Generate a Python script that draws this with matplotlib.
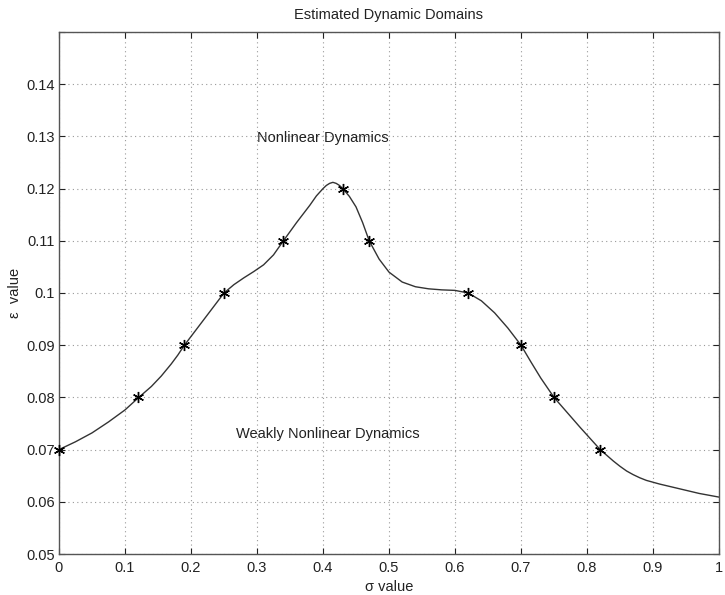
import numpy as np
import matplotlib
matplotlib.use('Agg')
import matplotlib.pyplot as plt

# 추정된 경계점 (sigma, epsilon)
sigma_pts = [0.0, 0.12, 0.19, 0.25, 0.34, 0.43, 0.47, 0.62, 0.70, 0.75, 0.82]
eps_pts = [0.07, 0.08, 0.09, 0.10, 0.11, 0.12, 0.11, 0.10, 0.09, 0.08, 0.07]

# 그림에서 읽은 경계 곡선
curve_x = [0.0, 0.025, 0.05, 0.075, 0.10, 0.12, 0.14, 0.155, 0.17, 0.18, 0.19, 0.205,
           0.22, 0.235, 0.25, 0.265, 0.28, 0.295, 0.31, 0.325, 0.34, 0.36, 0.38, 0.39,
           0.40, 0.405, 0.41, 0.415, 0.42, 0.425, 0.43, 0.44, 0.45, 0.46, 0.47, 0.485,
           0.50, 0.52, 0.54, 0.56, 0.58, 0.60, 0.62, 0.64, 0.66, 0.68, 0.70, 0.715,
           0.73, 0.75, 0.77, 0.79, 0.805, 0.82, 0.83, 0.84, 0.85, 0.86, 0.87, 0.88,
           0.89, 0.91, 0.93, 0.95, 0.97, 1.0]
curve_y = [0.0700, 0.0715, 0.0732, 0.0753, 0.0776, 0.0799, 0.0821, 0.0841, 0.0864, 0.0881,
           0.0900, 0.0925, 0.0950, 0.0975, 0.1000, 0.1016, 0.1029, 0.1041, 0.1054, 0.1073,
           0.1100, 0.1135, 0.1168, 0.1186, 0.1200, 0.1206, 0.1210, 0.1212, 0.1210, 0.1206,
           0.1200, 0.1185, 0.1165, 0.1135, 0.1100, 0.1065, 0.1040, 0.1021, 0.1012, 0.1008,
           0.1006, 0.1005, 0.1000, 0.0985, 0.0962, 0.0933, 0.0900, 0.0868, 0.0837, 0.0800,
           0.0771, 0.0742, 0.0721, 0.0700, 0.0689, 0.0678, 0.0668, 0.0659, 0.0652, 0.0646,
           0.0641, 0.0634, 0.0628, 0.0622, 0.0616, 0.0609]

xticks = [0, 0.1, 0.2, 0.3, 0.4, 0.5, 0.6, 0.7, 0.8, 0.9, 1.0]
xtick_labels = ['0', '0.1', '0.2', '0.3', '0.4', '0.5', '0.6', '0.7', '0.8', '0.9', '1']
yticks = [0.05, 0.06, 0.07, 0.08, 0.09, 0.10, 0.11, 0.12, 0.13, 0.14, 0.15]
ytick_labels = ['0.05', '0.06', '0.07', '0.08', '0.09', '0.1', '0.11', '0.12', '0.13', '0.14', '']

plt.rcParams['font.family'] = ['Liberation Sans', 'DejaVu Sans']
plt.rcParams['font.size'] = 10.5

fig = plt.figure(figsize=(7.25, 5.95), dpi=100)
ax = fig.add_axes([59 / 725, 41 / 595, 660 / 725, 522 / 595])

ax.plot(curve_x, curve_y, color='#333333', lw=1.0)
ax.plot(sigma_pts, eps_pts, ls='none', marker=(6, 2, 0), ms=8, color='black', mew=1.0,
        clip_on=False, zorder=5)

ax.set_xlim(0, 1)
ax.set_ylim(0.05, 0.15)
ax.set_xticks(xticks)
ax.set_xticklabels(xtick_labels)
ax.set_yticks(yticks)
ax.set_yticklabels(ytick_labels)
ax.tick_params(direction='in', length=4, width=0.8, top=True, right=True,
               colors='#222222', labelcolor='#222222')
ax.tick_params(axis='x', pad=5)
ax.tick_params(axis='y', pad=3)
ax.grid(True, ls=(0, (1, 3)), color='#999999', lw=0.8)
for s in ax.spines.values():
    s.set_color('#555555')
    s.set_linewidth(1.0)

ax.text(0.40, 0.1297, 'Nonlinear Dynamics', ha='center', va='center', color='#222222')
ax.text(0.408, 0.0729, 'Weakly Nonlinear Dynamics', ha='center', va='center', color='#222222')

fig.text(389 / 725, 1 - 15 / 595, 'Estimated Dynamic Domains', ha='center', va='center',
         color='#222222')
fig.text(389 / 725, 1 - 587 / 595, 'σ value', ha='center', va='center', color='#222222')
fig.text(15 / 725, 1 - 293 / 595, 'ε  value', ha='center', va='center', rotation=90,
         color='#222222')

fig.savefig('out.png', dpi=100)
